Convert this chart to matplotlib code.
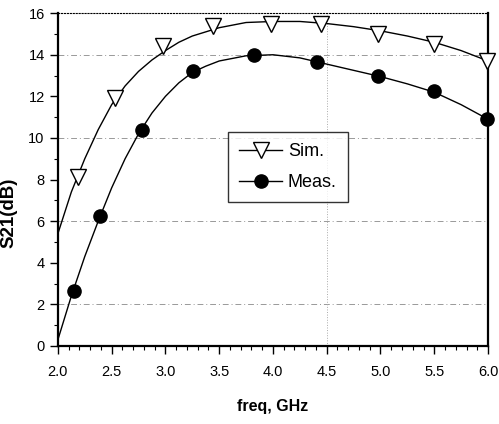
import matplotlib
matplotlib.use("Agg")
import matplotlib.pyplot as plt
from matplotlib.lines import Line2D
from matplotlib.ticker import MultipleLocator

plt.rcParams['font.family'] = ['Liberation Sans', 'DejaVu Sans']

# Curve data (smooth lines)
curve_freq = [2.0, 2.125, 2.25, 2.375, 2.5, 2.625, 2.75, 2.875, 3.0, 3.125, 3.25, 3.375, 3.5, 3.75,
              4.0, 4.25, 4.5, 4.75, 5.0, 5.25, 5.5, 5.75, 6.0]
sim_curve = [5.4, 7.4, 9.0, 10.4, 11.6, 12.5, 13.2, 13.75, 14.2, 14.6, 14.9, 15.1, 15.3, 15.55,
             15.6, 15.6, 15.5, 15.35, 15.15, 14.9, 14.6, 14.2, 13.7]
meas_curve = [0.3, 2.4, 4.3, 6.0, 7.6, 9.0, 10.2, 11.2, 12.0, 12.65, 13.15, 13.45, 13.7, 13.95,
              14.0, 13.85, 13.55, 13.25, 12.95, 12.6, 12.2, 11.6, 10.9]

# Marker data
sim_freq = [2.19, 2.53, 2.98, 3.44, 3.98, 4.45, 4.98, 5.5, 5.99]
sim_vals = [8.1, 11.9, 14.4, 15.4, 15.5, 15.5, 15.0, 14.5, 13.7]
meas_freq = [2.15, 2.39, 2.78, 3.26, 3.82, 4.41, 4.98, 5.5, 5.99]
meas_vals = [2.64, 6.25, 10.4, 13.2, 14.0, 13.65, 13.0, 12.25, 10.9]

fig = plt.figure(figsize=(4.99, 4.24), dpi=100)
ax = fig.add_axes([0.116, 0.184, 0.862, 0.785])

for y in [2, 6, 10, 14]:
    ax.axhline(y, color='#999999', lw=0.7, ls=(0, (6, 3, 1, 3)), zorder=0)
ax.axvline(4.5, color='#aaaaaa', lw=0.7, ls=':', zorder=0)

ax.plot(curve_freq, sim_curve, color='black', lw=1.0)
ax.plot(curve_freq, meas_curve, color='black', lw=1.0)
ax.plot(sim_freq, sim_vals, ls='none', marker='v', ms=11, mfc='white', mec='black', mew=1.0,
        clip_on=False, zorder=3)
ax.plot(meas_freq, meas_vals, ls='none', marker='o', ms=9.5, mfc='black', mec='black',
        clip_on=False, zorder=3)

ax.set_xlim(2.0, 6.0)
ax.set_ylim(0, 16)
ax.xaxis.set_major_locator(MultipleLocator(0.5))
ax.xaxis.set_minor_locator(MultipleLocator(0.1))
ax.yaxis.set_major_locator(MultipleLocator(2))
ax.yaxis.set_minor_locator(MultipleLocator(1))
ax.set_xticklabels([f"{v:.1f}" for v in ax.get_xticks()])
ax.tick_params(axis='both', which='major', direction='out', length=6, width=1.0, labelsize=10.5)
ax.tick_params(axis='both', which='minor', direction='out', length=3, width=0.8)
ax.tick_params(axis='x', pad=8)

for s in ['left', 'bottom']:
    ax.spines[s].set_linewidth(1.6)
ax.spines['right'].set_linewidth(1.6)
ax.spines['top'].set_linewidth(0.8)
ax.spines['top'].set_linestyle(':')

ax.set_xlabel('freq, GHz', fontsize=11.5, fontweight='bold', labelpad=14)
ax.set_ylabel('S21(dB)', fontsize=13.5, fontweight='semibold', labelpad=8)
ax.yaxis.set_label_coords(-0.095, 0.40)

handles = [
    Line2D([], [], color='black', lw=1.0, marker='v', ms=11, mfc='white', mec='black'),
    Line2D([], [], color='black', lw=1.0, marker='o', ms=9.5, mfc='black', mec='black'),
]
leg = ax.legend(handles, ['Sim.', 'Meas.'], loc='lower left', bbox_to_anchor=(0.375, 0.405),
                fontsize=13, frameon=True, fancybox=False, edgecolor='black',
                handlelength=2.4, borderpad=0.6, labelspacing=0.8, handletextpad=0.3)
leg.get_frame().set_linewidth(1.0)

fig.savefig('out.png', dpi=100)
